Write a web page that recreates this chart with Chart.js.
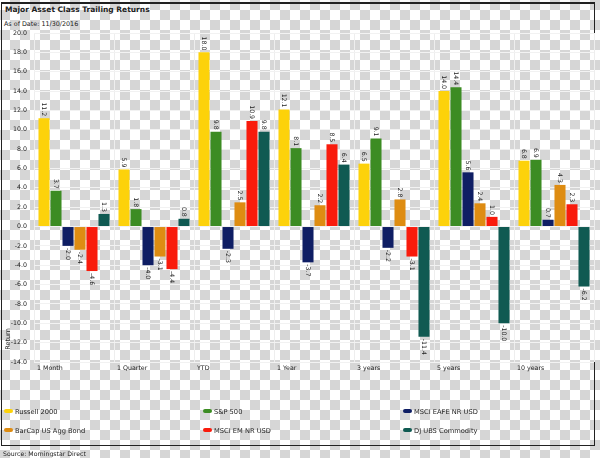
<!DOCTYPE html>
<html>
<head>
<meta charset="utf-8">
<script src="https://cdn.jsdelivr.net/npm/chart.js@4.4.0/dist/chart.umd.min.js"></script>
<style>
  html, body { margin: 0; padding: 0; }
  body {
    width: 600px; height: 458px; position: relative; overflow: hidden;
    background-color: #fff;
    background-image:
      linear-gradient(45deg, #d6d6d6 25%, transparent 25%, transparent 75%, #d6d6d6 75%),
      linear-gradient(45deg, #d6d6d6 25%, transparent 25%, transparent 75%, #d6d6d6 75%);
    background-size: 20px 20px;
    background-position: 0 0, 10px 10px;
    font-family: "DejaVu Sans", sans-serif;
    color: #222;
  }
  #frame {
    position: absolute; left: 1px; top: 2px; width: 592px; height: 441px;
    border: 1.5px solid #222; border-top-width: 2.5px;
  }
  #wrap { position: absolute; left: 0; top: 0; width: 600px; height: 458px; }
  .title { position: absolute; left: 5px; top: 5px; font-weight: bold; font-size: 7.5px; }
  .subtitle { position: absolute; left: 4px; top: 20px; font-size: 6.4px; }
  .source { position: absolute; left: 3px; top: 450px; font-size: 6.2px; }
  .legend-item { position: absolute; font-size: 6.7px; white-space: nowrap; }
  .legend-item span.box {
    display: inline-block; width: 9px; height: 4px; border-radius: 2px;
    margin-right: 2px; vertical-align: middle; position: relative; top: -1px;
  }
</style>
</head>
<body>
<div id="frame"></div>
<div class="title">Major Asset Class Trailing Returns</div>
<div class="subtitle">As of Date: 11/30/2016</div>
<div id="wrap"><canvas id="returnsChart"></canvas></div>
<div id="legend"></div>
<div class="source">Source: Morningstar Direct</div>
<script>
/* Major Asset Class Trailing Returns, as of 11/30/2016 */
const categories = ["1 Month", "1 Quarter", "YTD", "1 Year", "3 years", "5 years", "10 years"];
const seriesNames = ["Russell 2000", "S&P 500", "MSCI EAFE NR USD", "BarCap US Agg Bond", "MSCI EM NR USD", "DJ UBS Commodity"];
const seriesColors = ["#fdd20a", "#3c8c23", "#0f1e64", "#de8c12", "#f91b0c", "#105a52"];

const russell2000 = [11.2, 5.9, 18.0, 12.1, 6.5, 14.0, 6.8];
const sp500 = [3.7, 1.8, 9.8, 8.1, 9.1, 14.4, 6.9];
const msciEafe = [-2.0, -4.0, -2.3, -3.7, -2.2, 5.6, 0.7];
const barcapAgg = [-2.4, -3.1, 2.5, 2.2, 2.8, 2.4, 4.3];
const msciEm = [-4.6, -4.4, 10.9, 8.5, -3.1, 1.0, 2.3];
const djUbs = [1.3, 0.8, 9.8, 6.4, -11.4, -10.0, -6.2];

const yMin = -14;
const yMax = 20;
const yStep = 2;

const seriesValues = [russell2000, sp500, msciEafe, barcapAgg, msciEm, djUbs];

const textFont = "DejaVu Sans";

// rotated value labels above / below each bar
const barLabels = {
  id: "barLabels",
  afterDatasetsDraw(chart) {
    const ctx = chart.ctx;
    ctx.save();
    ctx.font = "6.2px '" + textFont + "'";
    ctx.fillStyle = "#222";
    ctx.textBaseline = "middle";
    chart.data.datasets.forEach(function (ds, i) {
      const meta = chart.getDatasetMeta(i);
      meta.data.forEach(function (bar, j) {
        const v = ds.data[j];
        ctx.save();
        if (v >= 0) {
          ctx.translate(bar.x, bar.y - 2);
          ctx.rotate(Math.PI / 2);
          ctx.textAlign = "right";
        } else {
          ctx.translate(bar.x, bar.y + 2);
          ctx.rotate(Math.PI / 2);
          ctx.textAlign = "left";
        }
        ctx.fillText(v.toFixed(1), 0, 0);
        ctx.restore();
      });
    });
    // y axis title
    ctx.save();
    ctx.font = "6.5px '" + textFont + "'";
    ctx.textAlign = "center";
    ctx.translate(8, 339);
    ctx.rotate(-Math.PI / 2);
    ctx.fillText("Return", 0, 0);
    ctx.restore();
    ctx.restore();
  }
};

const datasets = seriesNames.map(function (name, i) {
  return {
    label: name,
    data: seriesValues[i],
    backgroundColor: seriesColors[i],
    borderWidth: 0,
    categoryPercentage: 0.9,
    barPercentage: 0.92,
  };
});

const config = {
  type: "bar",
  data: { labels: categories, datasets: datasets },
  options: {
    responsive: true,
    maintainAspectRatio: false,
    animation: false,
    layout: { padding: { left: 0, right: 6, top: 33, bottom: 76 } },
    plugins: {
      legend: { display: false },
      title: { display: false },
      tooltip: { enabled: false },
    },
    scales: {
      x: {
        afterFit(scale) { scale.height = 20; },
        border: { display: false },
        grid: { color: "#eeeeee", lineWidth: 1, drawTicks: false, offset: true },
        ticks: {
          font: { family: textFont, size: 6.3 },
          color: "#222",
          padding: 3,
          align: "start",
          labelOffset: -37,
          maxRotation: 0,
          autoSkip: false,
        },
      },
      y: {
        min: yMin,
        max: yMax,
        afterFit(scale) { scale.width = 34; },
        border: { display: false },
        grid: { color: "#f2f2f2", lineWidth: 1, drawTicks: false },
        ticks: {
          stepSize: yStep,
          font: { family: textFont, size: 6.3 },
          color: "#222",
          padding: 7,
          callback: function (value) { return Number(value).toFixed(1); },
        },
      },
    },
  },
  plugins: [barLabels],
};

var returnsChart = new Chart(document.getElementById("returnsChart"), config);

// legend in three columns, two rows
const legendCols = [4, 203, 403];
const legendRows = [408, 427];
const legendEl = document.getElementById("legend");
seriesNames.forEach(function (name, i) {
  const item = document.createElement("div");
  item.className = "legend-item";
  item.style.left = legendCols[i % 3] + "px";
  item.style.top = legendRows[Math.floor(i / 3)] + "px";
  const box = document.createElement("span");
  box.className = "box";
  box.style.background = seriesColors[i];
  item.appendChild(box);
  item.appendChild(document.createTextNode(name));
  legendEl.appendChild(item);
});
</script>
</body>
</html>
